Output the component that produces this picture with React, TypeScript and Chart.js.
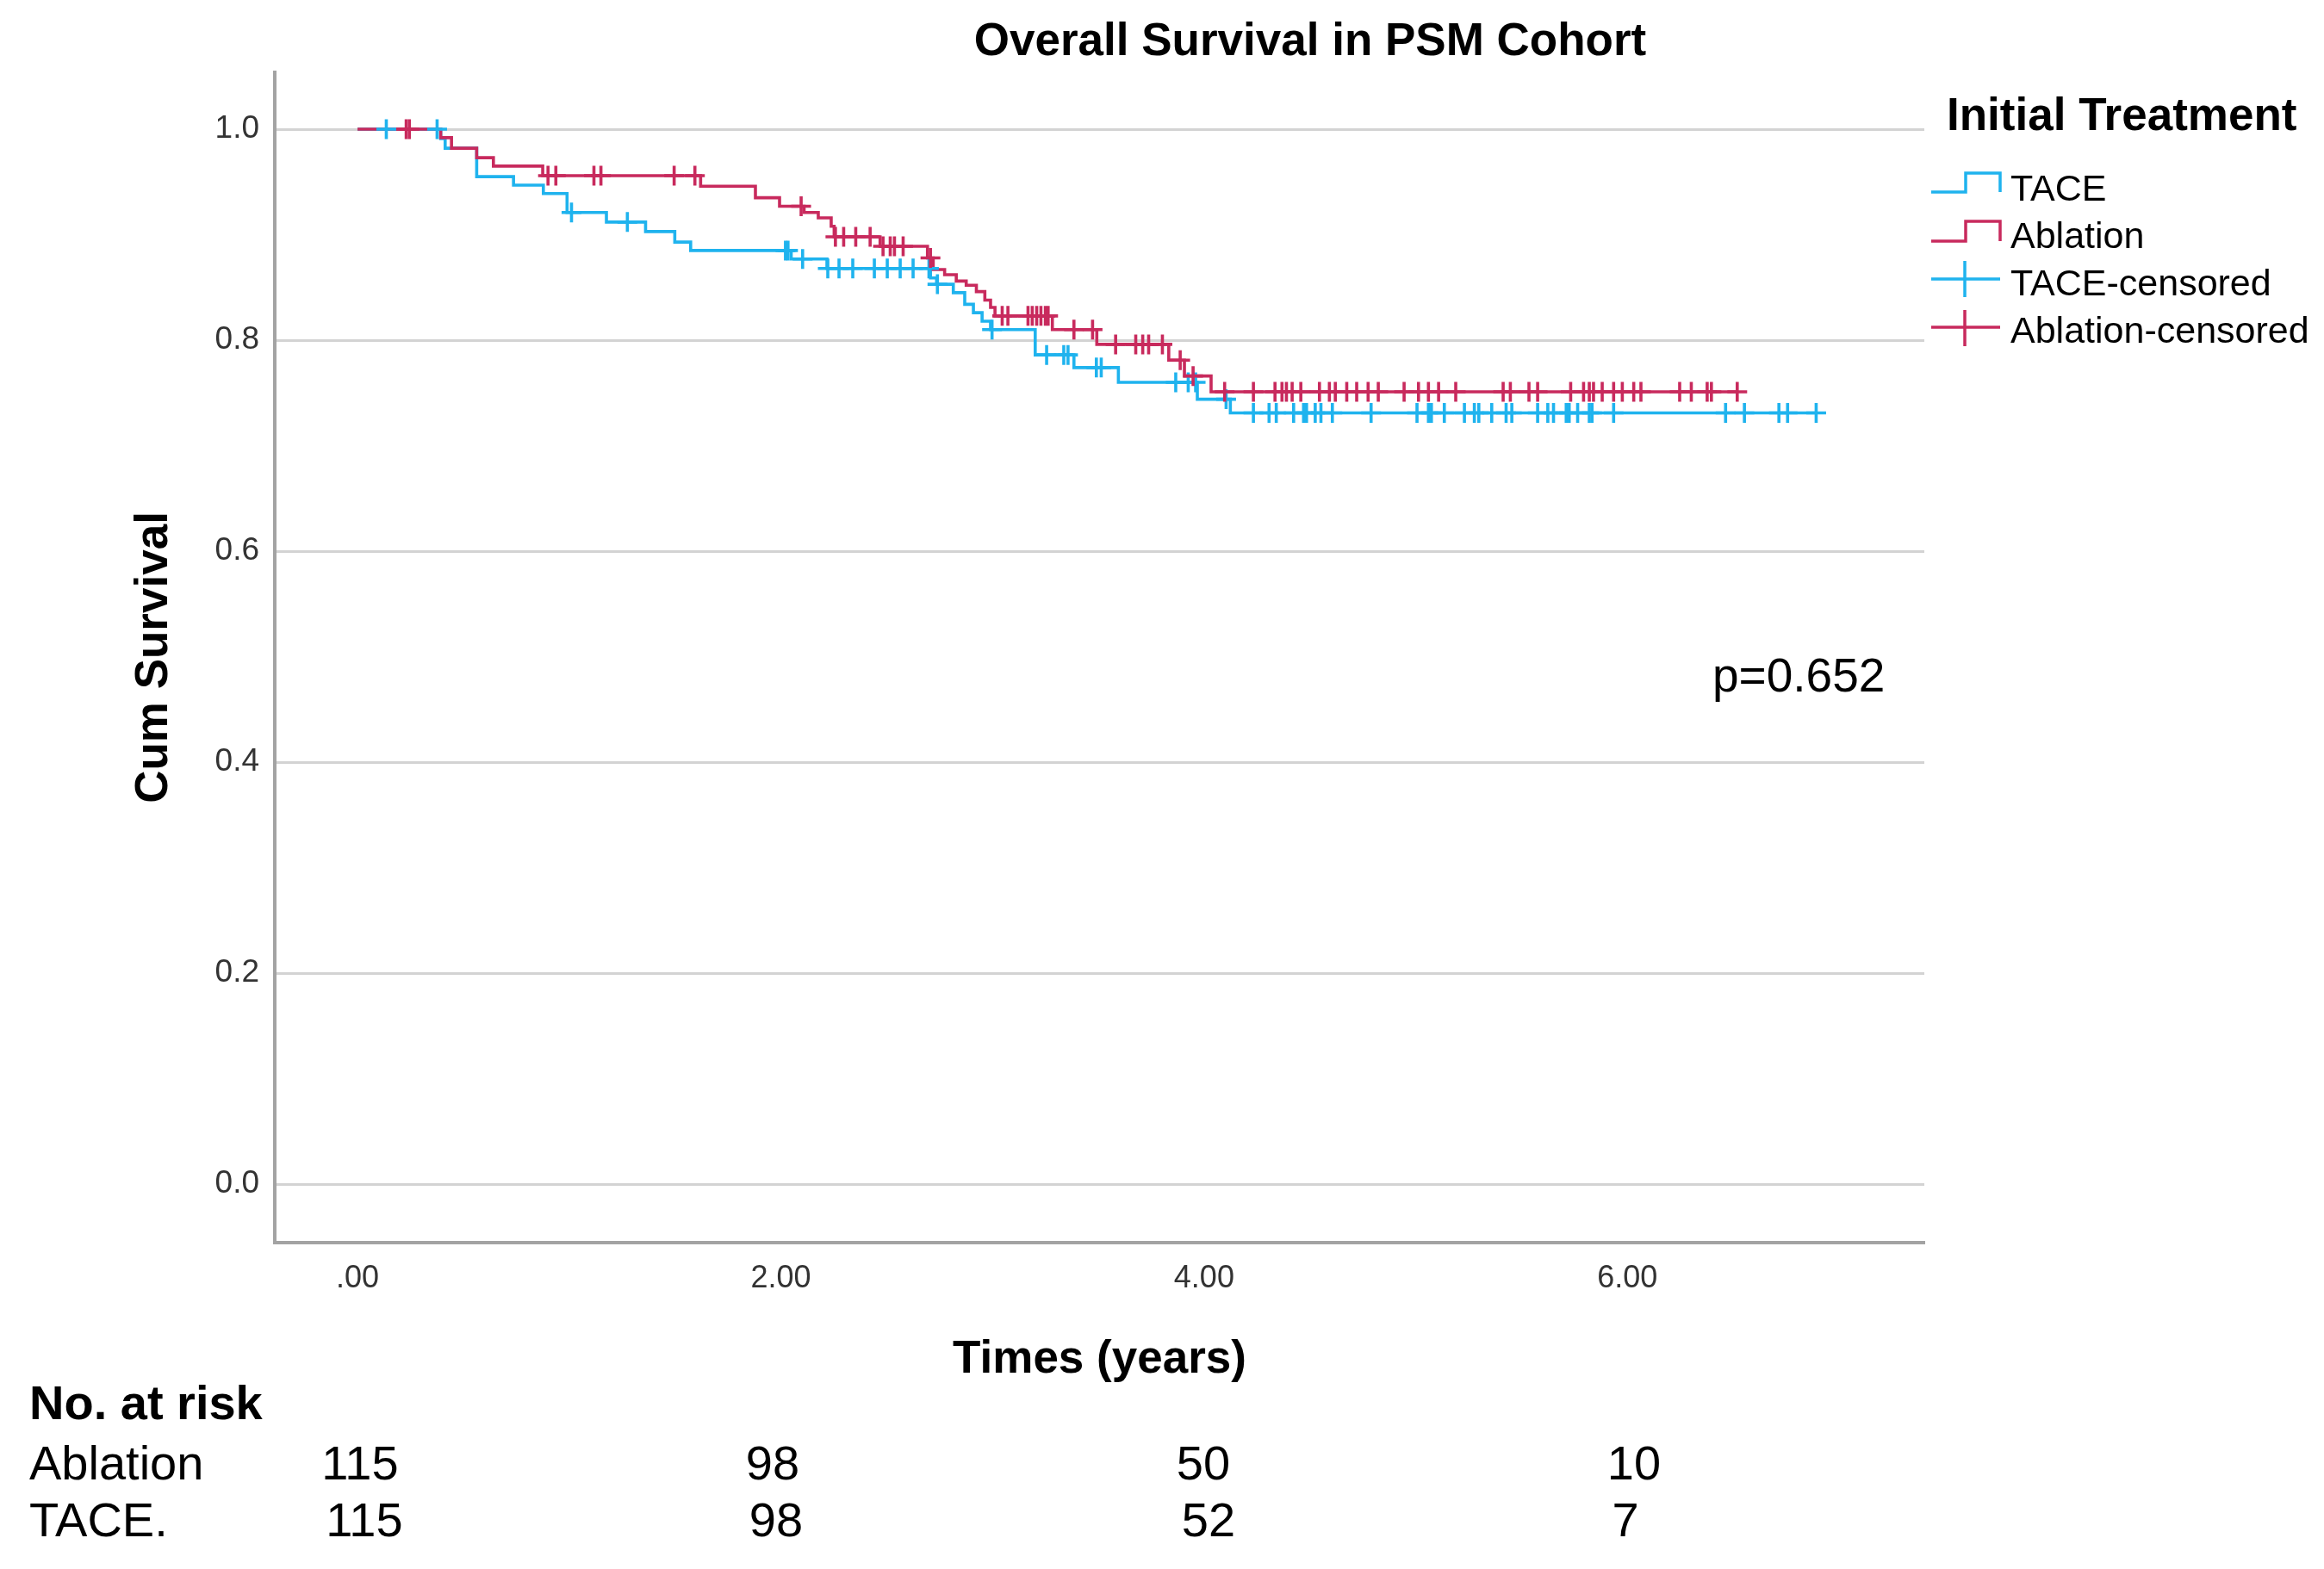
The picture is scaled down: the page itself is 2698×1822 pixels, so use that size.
import React, { useEffect, useRef } from 'react';
import { Chart, registerables } from 'chart.js';

Chart.register(...registerables);

// ---------- data ----------
const X_TICKS = [0, 2, 4, 6];
const X_TICK_LABELS = ['.00', '2.00', '4.00', '6.00'];
const Y_TICKS = [0, 0.2, 0.4, 0.6, 0.8, 1.0];
const Y_TICK_LABELS = ['0.0', '0.2', '0.4', '0.6', '0.8', '1.0'];

const TACE_TIMES = [0, 0.393, 0.414, 0.563, 0.737, 0.878, 0.99, 1.176, 1.361, 1.499, 1.574, 2.049, 2.218, 2.707, 2.736, 2.815, 2.869, 2.91, 2.951, 2.991, 3.202, 3.385, 3.595, 3.968, 4.124];
const TACE_SURV = [1.0, 0.991, 0.982, 0.955, 0.947, 0.939, 0.921, 0.912, 0.903, 0.893, 0.885, 0.877, 0.868, 0.859, 0.853, 0.845, 0.834, 0.826, 0.818, 0.81, 0.786, 0.774, 0.76, 0.744, 0.731];
const TACE_CENSORED = [0.136, 0.376, 1.011, 1.275, 2.022, 2.034, 2.103, 2.222, 2.275, 2.34, 2.442, 2.503, 2.564, 2.625, 2.7, 2.74, 2.998, 3.256, 3.337, 3.357, 3.491, 3.514, 3.866, 3.925, 3.96, 4.104, 4.233, 4.307, 4.341, 4.423, 4.47, 4.484, 4.525, 4.552, 4.606, 4.789, 5.006, 5.06, 5.074, 5.135, 5.23, 5.277, 5.298, 5.359, 5.427, 5.454, 5.576, 5.624, 5.651, 5.711, 5.725, 5.765, 5.82, 5.833, 5.935, 6.464, 6.553, 6.716, 6.757, 6.892];

const ABL_TIMES = [0, 0.393, 0.444, 0.563, 0.642, 0.875, 1.621, 1.88, 1.994, 2.11, 2.177, 2.238, 2.252, 2.469, 2.693, 2.72, 2.774, 2.829, 2.876, 2.924, 2.964, 2.991, 3.012, 3.283, 3.493, 3.833, 3.907, 4.033];
const ABL_SURV = [1.0, 0.992, 0.982, 0.973, 0.965, 0.956, 0.946, 0.935, 0.927, 0.921, 0.916, 0.908, 0.898, 0.889, 0.878, 0.867, 0.862, 0.856, 0.852, 0.846, 0.838, 0.831, 0.823, 0.81, 0.796, 0.781, 0.766, 0.751];
const ABL_CENSORED = [0.23, 0.245, 0.9, 0.937, 1.117, 1.15, 1.496, 1.594, 2.096, 2.258, 2.297, 2.354, 2.422, 2.483, 2.517, 2.537, 2.578, 2.707, 3.046, 3.073, 3.168, 3.188, 3.209, 3.229, 3.25, 3.263, 3.385, 3.473, 3.582, 3.677, 3.71, 3.738, 3.803, 3.887, 3.948, 4.097, 4.233, 4.335, 4.368, 4.389, 4.416, 4.457, 4.545, 4.592, 4.62, 4.674, 4.721, 4.775, 4.823, 4.945, 5.013, 5.06, 5.108, 5.189, 5.413, 5.447, 5.535, 5.576, 5.732, 5.793, 5.82, 5.84, 5.881, 5.935, 5.976, 6.03, 6.064, 6.247, 6.302, 6.377, 6.397, 6.519];

const SERIES_NAMES = ['TACE', 'Ablation', 'TACE-censored', 'Ablation-censored'];
const RISK_ROW_LABELS = ['Ablation', 'TACE.'];
const RISK_ABLATION = [115, 98, 50, 10];
const RISK_TACE = [115, 98, 52, 7];
const P_VALUE_TEXT = 'p=0.652';

// ---------- styles / layout ----------
const W = 2698;
const H = 1822;
const FONT = "'Liberation Sans', Arial, Helvetica, sans-serif";
const C_TACE = '#1fb3ee';
const C_ABL = '#c82a5d';
const RISK_X_ABL = [418, 897, 1397, 1897];
const RISK_X_TACE = [423, 901, 1403, 1887];

function survivalAt(times: number[], surv: number[], t: number): number {
  let s = surv[0];
  for (let i = 0; i < times.length; i++) if (times[i] <= t) s = surv[i];
  return s;
}

function curvePoints(times: number[], surv: number[], censored: number[]) {
  const pts = times.map((t, i) => ({ x: t, y: surv[i] }));
  const end = Math.max(...censored);
  pts.push({ x: end, y: survivalAt(times, surv, end) });
  return pts;
}

function censorPoints(times: number[], surv: number[], censored: number[]) {
  return censored.map((t) => ({ x: t, y: survivalAt(times, surv, t) }));
}

type TextProps = { x: number; baseline: number; size: number; bold?: boolean; center?: boolean; children: React.ReactNode };
function Txt({ x, baseline, size, bold, center, children }: TextProps) {
  return (
    <div
      style={{
        position: 'absolute',
        left: x,
        top: baseline - 0.8465 * size,
        fontFamily: FONT,
        fontSize: size,
        lineHeight: `${size}px`,
        fontWeight: bold ? 'bold' : 'normal',
        color: '#000',
        whiteSpace: 'nowrap',
        transform: center ? 'translateX(-50%)' : undefined,
      }}
    >
      {children}
    </div>
  );
}

export default function App() {
  const canvasRef = useRef<HTMLCanvasElement | null>(null);

  useEffect(() => {
    const canvas = canvasRef.current;
    if (!canvas) return;
    const chart = new Chart(canvas, {
      type: 'scatter',
      data: {
        datasets: [
          {
            label: SERIES_NAMES[3],
            data: censorPoints(ABL_TIMES, ABL_SURV, ABL_CENSORED),
            showLine: false,
            pointStyle: 'cross',
            pointRadius: 11.5,
            pointBorderWidth: 3.6,
            pointBorderColor: C_ABL,
            pointBackgroundColor: C_ABL,
            borderColor: C_ABL,
            order: 0,
          },
          {
            label: SERIES_NAMES[2],
            data: censorPoints(TACE_TIMES, TACE_SURV, TACE_CENSORED),
            showLine: false,
            pointStyle: 'cross',
            pointRadius: 11.5,
            pointBorderWidth: 3.6,
            pointBorderColor: C_TACE,
            pointBackgroundColor: C_TACE,
            borderColor: C_TACE,
            order: 1,
          },
          {
            label: SERIES_NAMES[1],
            data: curvePoints(ABL_TIMES, ABL_SURV, ABL_CENSORED),
            showLine: true,
            stepped: true,
            borderColor: C_ABL,
            borderWidth: 3.6,
            pointRadius: 0,
            fill: false,
            order: 2,
          },
          {
            label: SERIES_NAMES[0],
            data: curvePoints(TACE_TIMES, TACE_SURV, TACE_CENSORED),
            showLine: true,
            stepped: true,
            borderColor: C_TACE,
            borderWidth: 3.6,
            pointRadius: 0,
            fill: false,
            order: 3,
          },
        ] as any,
      },
      options: {
        animation: false,
        responsive: false,
        events: [],
        layout: { padding: { left: 0, right: W - 2234, top: 84, bottom: 211 } },
        plugins: {
          legend: { display: false },
          tooltip: { enabled: false },
          title: { display: false },
        },
        scales: {
          x: {
            type: 'linear',
            position: 'bottom',
            min: -0.391,
            max: 7.403,
            afterBuildTicks: (s: any) => {
              s.ticks = X_TICKS.map((v) => ({ value: v }));
            },
            afterFit: (s: any) => {
              s.height = 168;
            },
            grid: { display: false, drawTicks: false },
            border: { display: true, color: '#a3a3a3', width: 4 },
            ticks: {
              autoSkip: false,
              maxRotation: 0,
              padding: 20,
              color: '#333',
              font: { family: FONT, size: 36 },
              callback: (_v: any, i: number) => X_TICK_LABELS[i],
            },
            title: {
              display: true,
              text: 'Times (years)',
              color: '#000',
              font: { family: FONT, size: 53, weight: 'bold' },
              padding: { top: 0, bottom: 0 },
            },
          },
          y: {
            type: 'linear',
            position: 'left',
            min: -0.0555,
            max: 1.0539,
            afterBuildTicks: (s: any) => {
              s.ticks = Y_TICKS.map((v) => ({ value: v }));
            },
            afterFit: (s: any) => {
              s.width = 319;
            },
            grid: { color: '#d3d3d3', lineWidth: 3, drawTicks: false },
            border: { display: true, color: '#a3a3a3', width: 4 },
            ticks: {
              autoSkip: false,
              padding: 18,
              color: '#333',
              font: { family: FONT, size: 37 },
              callback: (_v: any, i: number) => Y_TICK_LABELS[i],
            },
            title: {
              display: true,
              text: 'Cum Survival',
              color: '#000',
              font: { family: FONT, size: 53, weight: 'bold' },
              padding: { top: 148, bottom: 0 },
            },
          },
        },
      } as any,
    });
    return () => chart.destroy();
  }, []);

  return (
    <div style={{ position: 'fixed', left: 0, top: 0, width: W, height: H, background: '#fff', overflow: 'hidden' }}>
      <canvas ref={canvasRef} width={W} height={H} style={{ position: 'absolute', left: 0, top: 0, width: W, height: H }} />

      <Txt x={1521} baseline={64} size={53} bold center>Overall Survival in PSM Cohort</Txt>

      {/* legend */}
      <Txt x={2260} baseline={151} size={53} bold>Initial Treatment</Txt>
      <svg width={W} height={H} style={{ position: 'absolute', left: 0, top: 0, pointerEvents: 'none' }}>
        <path d="M2242 223 H2282 V201 H2322 V223" fill="none" stroke={C_TACE} strokeWidth={3.5} />
        <path d="M2242 280 H2282 V257 H2322 V280" fill="none" stroke={C_ABL} strokeWidth={3.5} />
        <path d="M2242 324 H2322 M2281 303 V345" fill="none" stroke={C_TACE} strokeWidth={3.5} />
        <path d="M2242 380 H2322 M2281 360 V402" fill="none" stroke={C_ABL} strokeWidth={3.5} />
      </svg>
      <Txt x={2334} baseline={233} size={43}>{SERIES_NAMES[0]}</Txt>
      <Txt x={2334} baseline={288} size={43}>{SERIES_NAMES[1]}</Txt>
      <Txt x={2334} baseline={343} size={43}>{SERIES_NAMES[2]}</Txt>
      <Txt x={2334} baseline={398} size={43}>{SERIES_NAMES[3]}</Txt>

      <Txt x={1988} baseline={804} size={55}>{P_VALUE_TEXT}</Txt>

      {/* number at risk */}
      <Txt x={34} baseline={1648} size={56} bold>No. at risk</Txt>
      <Txt x={34} baseline={1718} size={56}>{RISK_ROW_LABELS[0]}</Txt>
      <Txt x={34} baseline={1784} size={56}>{RISK_ROW_LABELS[1]}</Txt>
      {RISK_ABLATION.map((n, i) => (
        <Txt key={'a' + i} x={RISK_X_ABL[i]} baseline={1718} size={56} center>{n}</Txt>
      ))}
      {RISK_TACE.map((n, i) => (
        <Txt key={'t' + i} x={RISK_X_TACE[i]} baseline={1784} size={56} center>{n}</Txt>
      ))}
    </div>
  );
}
